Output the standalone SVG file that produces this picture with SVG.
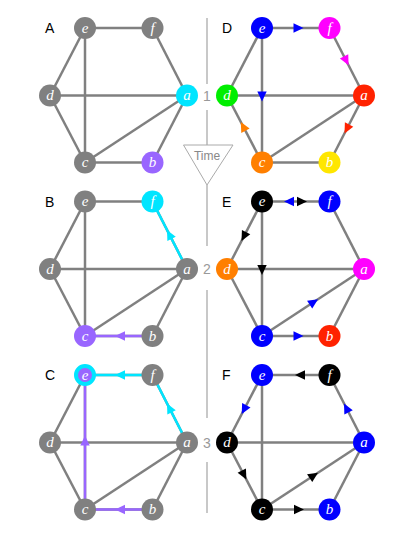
<svg xmlns="http://www.w3.org/2000/svg" xmlns:xlink="http://www.w3.org/1999/xlink" width="415" height="537" viewBox="0 0 415 537">
<style>
.edge{stroke:#808080;stroke-width:2.5;fill:none}
.cy{stroke:#00e5ff}
.pu{stroke:#9966ff}
.lbl{font-family:"Liberation Serif",serif;font-style:italic;font-size:15px;fill:#fff;text-anchor:middle}
.ptitle{font-family:"Liberation Sans",Arial,sans-serif;font-size:14px;fill:#000}
.num{font-family:"Liberation Sans",Arial,sans-serif;font-size:14px;fill:#999;text-anchor:middle}
.axis{stroke:#c8c8c8;stroke-width:2;fill:none}
</style>
<defs>
<path id="ah" d="M0 0 L-10 -4.7 L-10 4.7 Z"/>
<g id="edges">
<path class="edge" d="M85 28 H152.5"/>
<path class="edge" d="M85 28 L50 95.5"/>
<path class="edge" d="M85 28 V162.5"/>
<path class="edge" d="M152.5 28 L187 95.5"/>
<path class="edge" d="M50 95.5 H187"/>
<path class="edge" d="M50 95.5 L85 162.5"/>
<path class="edge" d="M85 162.5 L187 95.5"/>
<path class="edge" d="M85 162.5 H152.5"/>
<path class="edge" d="M152.5 162.5 L187 95.5"/>
</g>
</defs>

<g id="timeline">
<path class="axis" d="M207 18 V84 M207 110 V145 M207 185 V246 M207 290 V418 M207 462 V513"/>
<polygon points="183.5,145 233,145 207,185" fill="#fff" stroke="#aaa" stroke-width="1"/>
<text x="207" y="160" font-family="Liberation Sans,Arial,sans-serif" font-size="12" fill="#888" text-anchor="middle">Time</text>
<text class="num" x="207" y="100.5">1</text>
<text class="num" x="207" y="274">2</text>
<text class="num" x="207" y="447.5">3</text>
</g>

<!-- Panel A -->
<g id="panelA">
<text class="ptitle" x="45" y="33">A</text>
<g id="A-connectors"><use xlink:href="#edges"/></g>
<g id="A-e"><circle cx="85" cy="28" r="11" fill="#808080"/><text class="lbl" x="85" y="32.5">e</text></g>
<g id="A-f"><circle cx="152.5" cy="28" r="11" fill="#808080"/><text class="lbl" x="152.5" y="32.5">f</text></g>
<g id="A-d"><circle cx="50" cy="95.5" r="11" fill="#808080"/><text class="lbl" x="50" y="100">d</text></g>
<g id="A-a"><circle cx="187" cy="95.5" r="11" fill="#00e5ff"/><text class="lbl" x="187" y="100">a</text></g>
<g id="A-c"><circle cx="85" cy="162.5" r="11" fill="#808080"/><text class="lbl" x="85" y="167">c</text></g>
<g id="A-b"><circle cx="152.5" cy="162.5" r="11" fill="#9966ff"/><text class="lbl" x="152.5" y="167">b</text></g>
</g>

<!-- Panel B -->
<g id="panelB" transform="translate(0,173.5)">
<text class="ptitle" x="45" y="33">B</text>
<g id="B-connectors">
<use xlink:href="#edges"/>
<path class="edge cy" d="M152.5 28 L187 95.5"/>
<path class="edge pu" d="M85 162.5 H152.5"/>
<use xlink:href="#ah" transform="translate(167,56.4) rotate(-117.1)" fill="#00e5ff"/>
<use xlink:href="#ah" transform="translate(115,162.5) rotate(180)" fill="#9966ff"/>
</g>
<g id="B-e"><circle cx="85" cy="28" r="11" fill="#808080"/><text class="lbl" x="85" y="32.5">e</text></g>
<g id="B-f"><circle cx="152.5" cy="28" r="11" fill="#00e5ff"/><text class="lbl" x="152.5" y="32.5">f</text></g>
<g id="B-d"><circle cx="50" cy="95.5" r="11" fill="#808080"/><text class="lbl" x="50" y="100">d</text></g>
<g id="B-a"><circle cx="187" cy="95.5" r="11" fill="#808080"/><text class="lbl" x="187" y="100">a</text></g>
<g id="B-c"><circle cx="85" cy="162.5" r="11" fill="#9966ff"/><text class="lbl" x="85" y="167">c</text></g>
<g id="B-b"><circle cx="152.5" cy="162.5" r="11" fill="#808080"/><text class="lbl" x="152.5" y="167">b</text></g>
</g>

<!-- Panel C -->
<g id="panelC" transform="translate(0,347)">
<text class="ptitle" x="45" y="33">C</text>
<g id="C-connectors">
<use xlink:href="#edges"/>
<path class="edge cy" d="M85 28 H152.5"/>
<path class="edge cy" d="M152.5 28 L187 95.5"/>
<path class="edge pu" d="M85 162.5 H152.5"/>
<path class="edge pu" d="M85 28 V162.5"/>
<use xlink:href="#ah" transform="translate(115,28) rotate(180)" fill="#00e5ff"/>
<use xlink:href="#ah" transform="translate(167,56.4) rotate(-117.1)" fill="#00e5ff"/>
<use xlink:href="#ah" transform="translate(85,88.5) rotate(-90)" fill="#9966ff"/>
<use xlink:href="#ah" transform="translate(115,162.5) rotate(180)" fill="#9966ff"/>
</g>
<g id="C-e"><circle cx="85" cy="28" r="9" fill="#9966ff" stroke="#00e5ff" stroke-width="4"/><text class="lbl" x="85" y="32.5">e</text></g>
<g id="C-f"><circle cx="152.5" cy="28" r="11" fill="#808080"/><text class="lbl" x="152.5" y="32.5">f</text></g>
<g id="C-d"><circle cx="50" cy="95.5" r="11" fill="#808080"/><text class="lbl" x="50" y="100">d</text></g>
<g id="C-a"><circle cx="187" cy="95.5" r="11" fill="#808080"/><text class="lbl" x="187" y="100">a</text></g>
<g id="C-c"><circle cx="85" cy="162.5" r="11" fill="#808080"/><text class="lbl" x="85" y="167">c</text></g>
<g id="C-b"><circle cx="152.5" cy="162.5" r="11" fill="#808080"/><text class="lbl" x="152.5" y="167">b</text></g>
</g>

<!-- Panel D -->
<g id="panelD" transform="translate(177,0)">
<text class="ptitle" x="45" y="33">D</text>
<g id="D-connectors">
<use xlink:href="#edges"/>
<use xlink:href="#ah" transform="translate(126.5,28) rotate(0)" fill="#0000ff"/>
<use xlink:href="#ah" transform="translate(171.6,65.3) rotate(62.9)" fill="#ff00ff"/>
<use xlink:href="#ah" transform="translate(85,101.5) rotate(90)" fill="#0000ff"/>
<use xlink:href="#ah" transform="translate(167.5,133.4) rotate(117.2)" fill="#ff2200"/>
<use xlink:href="#ah" transform="translate(63.8,121.9) rotate(-117.6)" fill="#ff7f00"/>
</g>
<g id="D-e"><circle cx="85" cy="28" r="11" fill="#0000ff"/><text class="lbl" x="85" y="32.5">e</text></g>
<g id="D-f"><circle cx="152.5" cy="28" r="11" fill="#ff00ff"/><text class="lbl" x="152.5" y="32.5">f</text></g>
<g id="D-d"><circle cx="50" cy="95.5" r="11" fill="#00ee00"/><text class="lbl" x="50" y="100">d</text></g>
<g id="D-a"><circle cx="187" cy="95.5" r="11" fill="#ff2200"/><text class="lbl" x="187" y="100">a</text></g>
<g id="D-c"><circle cx="85" cy="162.5" r="11" fill="#ff7f00"/><text class="lbl" x="85" y="167">c</text></g>
<g id="D-b"><circle cx="152.5" cy="162.5" r="11" fill="#ffe600"/><text class="lbl" x="152.5" y="167">b</text></g>
</g>

<!-- Panel E -->
<g id="panelE" transform="translate(177,173.5)">
<text class="ptitle" x="45" y="33">E</text>
<g id="E-connectors">
<use xlink:href="#edges"/>
<use xlink:href="#ah" transform="translate(107,28) rotate(180)" fill="#0000ff"/>
<use xlink:href="#ah" transform="translate(130,28) rotate(0)" fill="#000"/>
<use xlink:href="#ah" transform="translate(64.5,67.5) rotate(117.4)" fill="#000"/>
<use xlink:href="#ah" transform="translate(85,101.5) rotate(90)" fill="#000"/>
<use xlink:href="#ah" transform="translate(141,125.7) rotate(-33.3)" fill="#0000ff"/>
<use xlink:href="#ah" transform="translate(126.5,162.5) rotate(0)" fill="#0000ff"/>
</g>
<g id="E-e"><circle cx="85" cy="28" r="11" fill="#000"/><text class="lbl" x="85" y="32.5">e</text></g>
<g id="E-f"><circle cx="152.5" cy="28" r="11" fill="#0000ff"/><text class="lbl" x="152.5" y="32.5">f</text></g>
<g id="E-d"><circle cx="50" cy="95.5" r="11" fill="#ff7f00"/><text class="lbl" x="50" y="100">d</text></g>
<g id="E-a"><circle cx="187" cy="95.5" r="11" fill="#ff00ff"/><text class="lbl" x="187" y="100">a</text></g>
<g id="E-c"><circle cx="85" cy="162.5" r="11" fill="#0000ff"/><text class="lbl" x="85" y="167">c</text></g>
<g id="E-b"><circle cx="152.5" cy="162.5" r="11" fill="#ff2200"/><text class="lbl" x="152.5" y="167">b</text></g>
</g>

<!-- Panel F -->
<g id="panelF" transform="translate(177,347)">
<text class="ptitle" x="45" y="33">F</text>
<g id="F-connectors">
<use xlink:href="#edges"/>
<use xlink:href="#ah" transform="translate(118,28) rotate(180)" fill="#000"/>
<use xlink:href="#ah" transform="translate(64.7,67.1) rotate(117.4)" fill="#0000ff"/>
<use xlink:href="#ah" transform="translate(167,56.4) rotate(-117.1)" fill="#0000ff"/>
<use xlink:href="#ah" transform="translate(69.4,132.5) rotate(62.4)" fill="#000"/>
<use xlink:href="#ah" transform="translate(141,125.7) rotate(-33.3)" fill="#000"/>
<use xlink:href="#ah" transform="translate(127,162.5) rotate(0)" fill="#000"/>
</g>
<g id="F-e"><circle cx="85" cy="28" r="11" fill="#0000ff"/><text class="lbl" x="85" y="32.5">e</text></g>
<g id="F-f"><circle cx="152.5" cy="28" r="11" fill="#000"/><text class="lbl" x="152.5" y="32.5">f</text></g>
<g id="F-d"><circle cx="50" cy="95.5" r="11" fill="#000"/><text class="lbl" x="50" y="100">d</text></g>
<g id="F-a"><circle cx="187" cy="95.5" r="11" fill="#0000ff"/><text class="lbl" x="187" y="100">a</text></g>
<g id="F-c"><circle cx="85" cy="162.5" r="11" fill="#000"/><text class="lbl" x="85" y="167">c</text></g>
<g id="F-b"><circle cx="152.5" cy="162.5" r="11" fill="#0000ff"/><text class="lbl" x="152.5" y="167">b</text></g>
</g>
</svg>
